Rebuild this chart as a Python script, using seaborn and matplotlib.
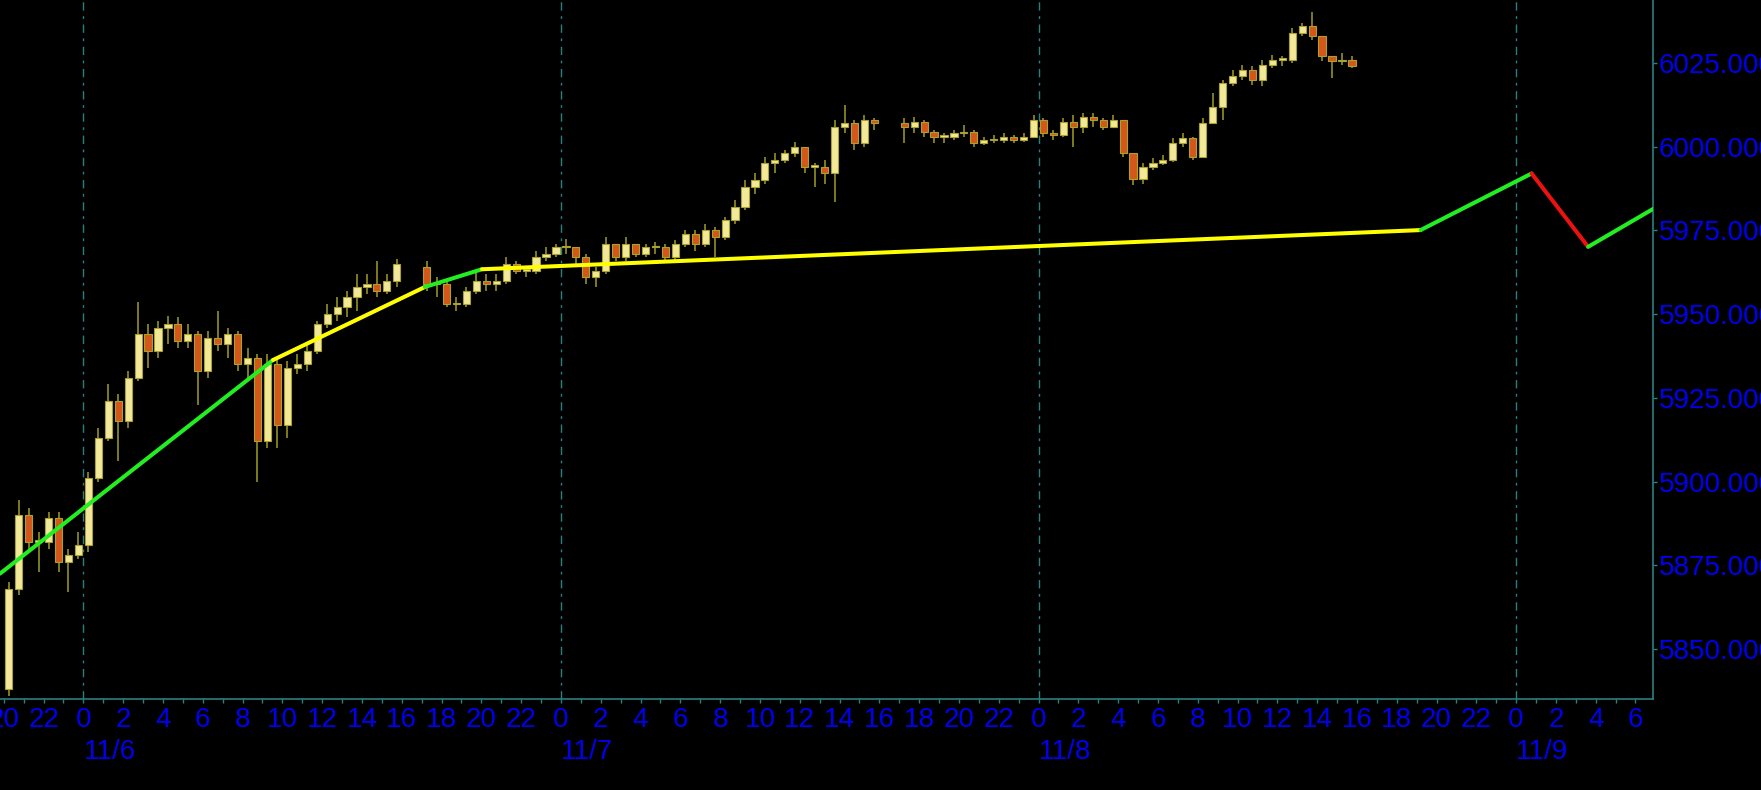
import numpy as np
import pandas as pd
import matplotlib
matplotlib.use("Agg")
import matplotlib.pyplot as plt
import seaborn as sns

# ---------------- data ----------------
# hours measured from 11/6 00:00; half-hour candles, open = previous close
session_starts = [-4.0, 17.0, 41.0]
session_opens = [5838, 5964, 6007]

s1_close = [5868, 5890, 5882, 5882, 5889, 5876, 5878, 5881, 5901, 5913,
            5924, 5918, 5931, 5944, 5939, 5946, 5947, 5942, 5944, 5933,
            5943, 5941, 5944, 5935, 5937, 5912, 5935, 5917, 5934, 5935,
            5939, 5947, 5950, 5952, 5955, 5958, 5959, 5957, 5960, 5965]
s1_high = [5870, 5894.5, 5892, 5885, 5891, 5891, 5880, 5885, 5903, 5916,
           5929, 5926, 5933, 5953.5, 5947, 5948, 5949.5, 5949, 5947, 5945,
           5945, 5951, 5946, 5945, 5940, 5938, 5938, 5937, 5936, 5938,
           5941, 5948, 5953, 5955, 5957, 5962, 5962, 5966, 5962, 5966.5]
s1_low = [5836, 5866, 5879, 5873, 5880, 5873, 5867, 5877, 5879, 5900,
          5912, 5906, 5916, 5930, 5934, 5937, 5941, 5940, 5940, 5923,
          5931, 5939, 5937, 5933, 5930, 5900, 5910, 5910, 5913, 5932,
          5933, 5938, 5946, 5948, 5949, 5951, 5956, 5955, 5956, 5958]

s2_close = [5959, 5959, 5953, 5953, 5957, 5960, 5959, 5960, 5965, 5963,
            5963, 5967, 5968, 5970, 5970, 5967, 5961, 5963, 5971, 5967,
            5971, 5968, 5970, 5970, 5967, 5971, 5974, 5971, 5975, 5973,
            5978, 5982, 5988, 5990, 5995, 5996, 5998, 6000, 5994, 5994,
            5992, 6006, 6007, 6001, 6008, 6007]
s2_high = [5966, 5961, 5960, 5955, 5958, 5963, 5962, 5962, 5967, 5966,
           5964, 5969, 5970, 5971, 5972.5, 5970, 5968, 5964, 5973, 5971,
           5973, 5971, 5971, 5971.5, 5971, 5972, 5975, 5975, 5977, 5976,
           5979, 5984, 5990, 5992, 5997, 5998, 5999, 6001.5, 6000, 5995,
           5996, 6008, 6012.5, 6008, 6009.5, 6008.5]
s2_low = [5957, 5955, 5952, 5951, 5952, 5956, 5957, 5957, 5959, 5962,
          5961, 5962, 5966, 5967, 5968, 5965, 5959, 5958, 5962, 5966,
          5966, 5967, 5967, 5968, 5966, 5966, 5970, 5969, 5970, 5967,
          5972, 5977, 5981, 5986, 5989, 5992, 5995, 5997, 5992, 5988,
          5989, 5983.5, 6004, 5999, 6000, 6005]

s3_close = [6006, 6007.5, 6004.5, 6003, 6003, 6004, 6004.5, 6001, 6002, 6002,
            6003, 6002, 6003, 6008, 6004, 6003.5, 6007.5, 6006, 6009, 6008,
            6006, 6008, 5998, 5990.5, 5994, 5995, 5996, 6001, 6002.5, 5997,
            6007, 6012, 6019, 6021, 6023, 6020, 6024.5, 6026, 6026, 6034,
            6036, 6033, 6027, 6025.5, 6026, 6024]
s3_high = [6008.7, 6009, 6008, 6005, 6004, 6005, 6006.5, 6005, 6003, 6003.5,
           6004, 6003.5, 6004, 6009.5, 6008.5, 6005, 6008.5, 6009.5, 6010, 6010,
           6008.5, 6009.5, 6008, 5998, 5995, 5996.5, 5997.5, 6002.5, 6004, 6003,
           6008.5, 6016, 6020, 6023, 6024.5, 6024, 6026, 6027.5, 6027, 6035.5,
           6037, 6040.3, 6033, 6027, 6028, 6027]
s3_low = [6001, 6004, 6003, 6001, 6001, 6002, 6003, 6000, 6000.5, 6001,
          6001, 6001, 6001.5, 6003, 6003, 6002, 6003, 6000, 6004, 6006,
          6005, 6005.5, 5997, 5988.5, 5989, 5993, 5994.5, 5995.5, 6000, 5996,
          5996.5, 6007, 6008, 6018, 6020, 6018.5, 6018, 6023.5, 6024, 6025,
          6033, 6032, 6025.5, 6020.5, 6024.5, 6023.5]

# trend line vertices and the colour of each segment
trend_h = [-4.19, 9.53, 17.16, 20.03, 67.2, 72.78, 75.62, 78.88]
trend_v = [5872.5, 5936.3, 5958.1, 5963.4, 5975.1, 5992.0, 5970.1, 5981.4]
trend_colors = ["#22ee22", "#ffff00", "#22ee22", "#ffff00", "#22ee22", "#ee1111", "#22ee22"]

y_ticks = [5850, 5875, 5900, 5925, 5950, 5975, 6000, 6025]
day_hours = [0, 24, 48, 72]
day_labels = ["11/6", "11/7", "11/8", "11/9"]

# ---------------- build candle table ----------------
rows = []
for start, op, cl, hi, lo in zip(session_starts, session_opens,
                                  [s1_close, s2_close, s3_close],
                                  [s1_high, s2_high, s3_high],
                                  [s1_low, s2_low, s3_low]):
    prev = op
    for i, (c, h, l) in enumerate(zip(cl, hi, lo)):
        rows.append(dict(t=start + 0.5 * i + 0.25, o=prev, c=c, h=h, l=l))
        prev = c
cd = pd.DataFrame(rows)

# ---------------- style ----------------
sns.set_theme(style="dark", rc={"axes.facecolor": "black",
                                "figure.facecolor": "black",
                                "savefig.facecolor": "black"})
plt.rcParams["font.family"] = ["Liberation Sans", "DejaVu Sans"]

BLUE = "#0000ee"
TEAL = "#2a8080"
FS = 20

fig = plt.figure(figsize=(17.61, 7.90), dpi=100)
ax = fig.add_axes([0.0, 1 - 699 / 790, 1653 / 1761, 699 / 790])
ax.set_facecolor("black")

# day separators
for d in day_hours:
    ax.axvline(d, color=TEAL, lw=1.0, linestyle=(0, (6, 4, 2, 4)), zorder=1)

# candles
up = cd["c"] >= cd["o"]
ax.vlines(cd["t"], cd["l"], cd["h"], color="#a09c26", lw=1.1, zorder=2)
body_bottom = np.minimum(cd["o"], cd["c"])
body_height = np.maximum(np.abs(cd["c"] - cd["o"]), 0.4)
ax.bar(cd["t"][up], body_height[up], bottom=body_bottom[up], width=0.36,
       color="#f2e89a", edgecolor="#aaa22a", linewidth=0.8, zorder=3)
ax.bar(cd["t"][~up], body_height[~up], bottom=body_bottom[~up], width=0.36,
       color="#d5561a", edgecolor="#aaa22a", linewidth=0.8, zorder=3)

# trend segments
seg_rows = []
for i in range(len(trend_h) - 1):
    seg_rows.append(dict(h=trend_h[i], v=trend_v[i], seg=i))
    seg_rows.append(dict(h=trend_h[i + 1], v=trend_v[i + 1], seg=i))
sdf = pd.DataFrame(seg_rows)
sns.lineplot(data=sdf, x="h", y="v", hue="seg", palette=trend_colors,
             estimator=None, sort=False, legend=False, lw=2.9, ax=ax, zorder=4)

# axes
ax.set_xlim(-4.19, 78.88)
ax.set_ylim(5835.06, 6043.81)
ax.set_xlabel("")
ax.set_ylabel("")
ax.yaxis.tick_right()
ax.set_yticks(y_ticks)
ax.set_yticklabels([f"{v:.3f}" for v in y_ticks])
hours = list(range(-4, 79, 2))
ax.set_xticks(hours)
ax.set_xticklabels([str(h % 24) for h in hours])
ax.set_xticks(list(range(-4, 79, 1)), minor=True)
ax.tick_params(axis="x", which="both", direction="out", length=3, width=1,
               color=TEAL, labelcolor=BLUE, labelsize=FS, pad=3, bottom=True)
ax.tick_params(axis="y", which="both", direction="out", length=3, width=1,
               color=TEAL, labelcolor=BLUE, labelsize=FS, pad=1,
               right=True, left=False)
ax.grid(False)
for side in ["top", "left"]:
    ax.spines[side].set_visible(False)
for side in ["right", "bottom"]:
    ax.spines[side].set_visible(True)
    ax.spines[side].set_color(TEAL)
    ax.spines[side].set_linewidth(1.2)

for d, lab in zip(day_hours, day_labels):
    ax.text(d, -0.076, lab, transform=ax.get_xaxis_transform(), ha="left",
            va="center", color=BLUE, fontsize=FS, clip_on=False)

fig.savefig("out.png", dpi=100, facecolor="black")
